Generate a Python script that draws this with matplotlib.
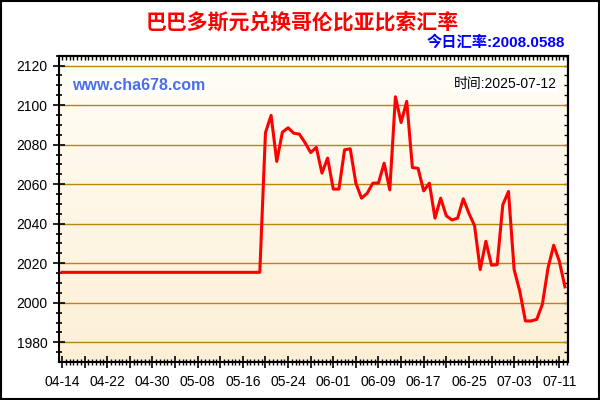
import numpy as np
import pandas as pd
import matplotlib
matplotlib.use("Agg")
import matplotlib.pyplot as plt
import matplotlib.dates as mdates
from matplotlib.ticker import MultipleLocator, FixedLocator
from matplotlib.colors import LinearSegmentedColormap
from matplotlib.patches import Rectangle

plt.rcParams['font.family'] = ['Liberation Sans', 'Noto Sans CJK SC', 'DejaVu Sans']

#dados (taxa diaria)
datas = pd.date_range("2025-04-14", "2025-07-12", freq="D")
taxa_plana = [2015.4] * 36
taxa_resto = [2086.0, 2094.8, 2071.5, 2086.3, 2088.5, 2085.8, 2085.3, 2081.0,
              2076.0, 2078.6, 2065.6, 2073.2, 2057.5, 2057.5, 2077.4, 2077.9,
              2060.5, 2052.9, 2055.4, 2060.5, 2060.6, 2070.6, 2057.1, 2104.2,
              2091.2, 2101.9, 2068.4, 2068.0, 2056.6, 2060.5, 2042.8, 2052.9,
              2044.0, 2041.9, 2042.8, 2052.6, 2045.3, 2039.0, 2016.8, 2031.1,
              2019.0, 2019.3, 2049.6, 2056.3, 2016.8, 2005.9, 1990.8, 1990.8,
              1991.6, 1999.2, 2017.6, 2029.1, 2021.0, 2008.06]
taxas = taxa_plana + taxa_resto

titulo = "巴巴多斯元兑换哥伦比亚比索汇率"
taxa_hoje = "今日汇率:2008.0588"
site = "www.cha678.com"
data_txt = "时间:2025-07-12"
y_ticks = [1980, 2000, 2020, 2040, 2060, 2080, 2100, 2120]

fig = plt.figure(figsize=(6, 4), dpi=100)
ax = fig.add_axes([0.0988, 0.0958, 0.8483, 0.7650])

x0 = mdates.date2num(datas[0])
xlim = (x0 - 0.48, x0 + 89.58)
ylim = (1970.2, 2125.0)

#fundo em degrade
cmap = LinearSegmentedColormap.from_list("fundo", ["#FFFEF6", "#FDEFD6"])
ax.imshow(np.linspace(0, 1, 256).reshape(-1, 1), cmap=cmap, aspect="auto",
          extent=(xlim[0], xlim[1], ylim[0], ylim[1]), zorder=0)

for yt in y_ticks:
    ax.axhline(yt, color="#B8860B", lw=1.0, zorder=1)

ax.plot(datas, taxas, color="#FF0000", lw=2.2, zorder=3)

ax.set_xlim(xlim)
ax.set_ylim(ylim)

ax.set_yticks(y_ticks)
ax.yaxis.set_minor_locator(MultipleLocator(5))
major_x = [mdates.date2num(d) for d in datas[::4]]
ax.xaxis.set_major_locator(FixedLocator(major_x))
ax.set_xticklabels([d.strftime("%m-%d") if i % 2 == 0 else "" for i, d in enumerate(datas[::4])])
ax.xaxis.set_minor_locator(MultipleLocator(2 / 3))

ax.tick_params(axis="y", which="major", direction="inout", length=9, width=1.2, labelsize=10, pad=4)
ax.tick_params(axis="y", which="minor", direction="inout", length=4, width=1.2)
ax.tick_params(axis="x", which="major", direction="inout", length=8, width=1.2, labelsize=10, pad=5.5)
ax.tick_params(axis="x", which="minor", direction="inout", length=5, width=1.0)

for sp in ax.spines.values():
    sp.set_linewidth(1.5)
    sp.set_zorder(5)

#ticks do topo e da direita, para dentro
top = ax.secondary_xaxis("top")
top.xaxis.set_major_locator(FixedLocator(major_x))
top.xaxis.set_minor_locator(MultipleLocator(2 / 3))
top.tick_params(which="both", direction="in", length=3, width=1.0, labeltop=False)
top.spines["top"].set_linewidth(1.5)
right = ax.secondary_yaxis("right")
right.set_yticks(y_ticks)
right.yaxis.set_minor_locator(MultipleLocator(5))
right.tick_params(which="both", direction="in", length=3, width=1.0, labelright=False)
right.spines["right"].set_linewidth(1.5)

fig.text(0.503, 0.945, titulo, color="#FF0000", fontsize=15, fontweight="bold",
         ha="center", va="center")
fig.text(0.942, 0.895, taxa_hoje, color="#0000FF", fontsize=11, fontweight="bold",
         ha="right", va="center")
ax.text(0.025, 0.902, site, transform=ax.transAxes, color="#4A6EEA", fontsize=11.5,
        fontweight="bold", ha="left", va="center",
        bbox=dict(facecolor="white", edgecolor="none", pad=1))
ax.text(0.978, 0.909, data_txt, transform=ax.transAxes, color="black", fontsize=10,
        ha="right", va="center",
        bbox=dict(facecolor="white", edgecolor="none", pad=1))

fig.patches.append(Rectangle((1 / 600, 1 / 400), 1 - 2 / 600, 1 - 2 / 400, fill=False,
                             edgecolor="black", lw=1.5, transform=fig.transFigure))

fig.savefig("out.png", dpi=100)
